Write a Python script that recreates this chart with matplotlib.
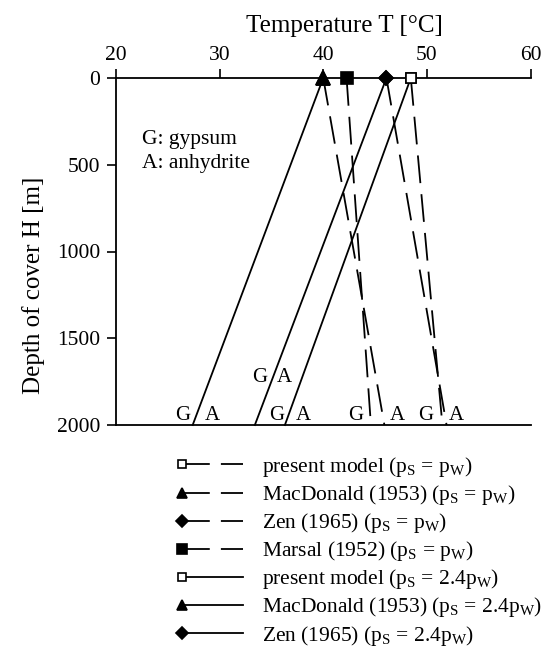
import matplotlib
matplotlib.use("Agg")
import matplotlib.pyplot as plt
from matplotlib.legend_handler import HandlerLine2D

plt.rcParams['font.family'] = ['Liberation Serif', 'DejaVu Serif']
plt.rcParams['mathtext.fontset'] = 'custom'
plt.rcParams['mathtext.rm'] = 'Liberation Serif'
plt.rcParams['mathtext.it'] = 'Liberation Serif:italic'
plt.rcParams['lines.scale_dashes'] = False

# ---- data ----
depths = [0, 2000]
labels = [
    r'present model (p$_\mathrm{S}$ = p$_\mathrm{W}$)',
    r'MacDonald (1953) (p$_\mathrm{S}$ = p$_\mathrm{W}$)',
    r'Zen (1965) (p$_\mathrm{S}$ = p$_\mathrm{W}$)',
    r'Marsal (1952) (p$_\mathrm{S}$ = p$_\mathrm{W}$)',
    r'present model (p$_\mathrm{S}$ = 2.4p$_\mathrm{W}$)',
    r'MacDonald (1953) (p$_\mathrm{S}$ = 2.4p$_\mathrm{W}$)',
    r'Zen (1965) (p$_\mathrm{S}$ = 2.4p$_\mathrm{W}$)',
]
T_top = [48.45, 40.0, 46.1, 42.25, 48.45, 40.0, 46.1]
T_bottom = [51.5, 45.9, 51.9, 44.6, 36.3, 27.4, 33.4]
markers = ['s', '^', 'D', 's', 's', '^', 'D']
marker_filled = [False, True, True, True, False, True, True]
dashed = [True, True, True, True, False, False, False]

ga_text = ['G', 'A', 'G', 'A', 'G', 'A', 'G', 'A', 'G', 'A']
ga_x = [26.43, 29.32, 35.53, 38.10, 33.82, 36.23, 43.16, 47.12, 49.92, 52.82]
ga_y = [1971, 1971, 1971, 1971, 1750, 1750, 1971, 1971, 1971, 1971]

xticks = [20, 30, 40, 50, 60]
yticks = [0, 500, 1000, 1500, 2000]


class FirstMarkerHandler(HandlerLine2D):
    def create_artists(self, legend, orig_handle, xdescent, ydescent,
                       width, height, fontsize, trans):
        arts = super().create_artists(legend, orig_handle, xdescent, ydescent,
                                      width, height, fontsize, trans)
        for a in arts:
            a.set_markevery([0])
        return arts


# ---- figure ----
fig = plt.figure(figsize=(5.49, 6.6), dpi=100)
L, R, T, B = 116, 530.5, 78, 425
ax = fig.add_axes([L / 549, 1 - B / 660, (R - L) / 549, (B - T) / 660])

msizes = {'s': 9.0, '^': 10.5, 'D': 7.6}
dash_pat = (0, (20, 8))
handles = []
for lab, t0, t1, mk, filled, ds in zip(labels, T_top, T_bottom, markers,
                                       marker_filled, dashed):
    ms = msizes[mk]
    if mk == 's' and not filled:
        ms = 7.0
    ln, = ax.plot([t0, t1], depths, color='black', lw=1.3,
                  linestyle=dash_pat if ds else '-',
                  marker=mk, markersize=ms, markevery=[0],
                  markerfacecolor='black' if filled else 'white',
                  markeredgecolor='black', markeredgewidth=1.2,
                  clip_on=False, zorder=3, label=lab)
    handles.append(ln)

for s, x, y in zip(ga_text, ga_x, ga_y):
    ax.text(x, y, s, ha='center', va='baseline', fontsize=15)

ax.text(22.54, 380, 'G: gypsum', ha='left', va='baseline', fontsize=15.5)
ax.text(22.54, 517, 'A: anhydrite', ha='left', va='baseline', fontsize=15.5)

ax.set_xlim(20, 60)
ax.set_ylim(2000, 0)
ax.set_xticks(xticks)
ax.set_yticks(yticks)
ax.xaxis.tick_top()
ax.xaxis.set_label_position('top')
ax.spines['right'].set_visible(False)
for sp in ['top', 'left', 'bottom']:
    ax.spines[sp].set_linewidth(1.3)
ax.tick_params(axis='x', which='both', top=True, bottom=False, direction='out',
               length=6.5, width=1.2, labelsize=15.5, pad=3)
ax.tick_params(axis='y', direction='out', length=6.5, width=1.2,
               labelsize=15.5, pad=5)

ax.set_xlabel('Temperature T [°C]', fontsize=18)
ax.xaxis.set_label_coords(0.55, 1.133)
ax.set_ylabel('Depth of cover H [m]', fontsize=18)
ax.yaxis.set_label_coords(-0.172, 0.402)

fs = 15.5
leg = fig.legend(handles=handles, loc='upper left',
                 bbox_to_anchor=(175.5 / 549, 1 - 455 / 660),
                 frameon=False, fontsize=fs, numpoints=2, markerscale=0.75,
                 handlelength=3.44, handletextpad=0.58, labelspacing=0.19,
                 borderpad=0, borderaxespad=0,
                 handler_map={h: FirstMarkerHandler() for h in handles})

fig.savefig('out.png', dpi=100)
